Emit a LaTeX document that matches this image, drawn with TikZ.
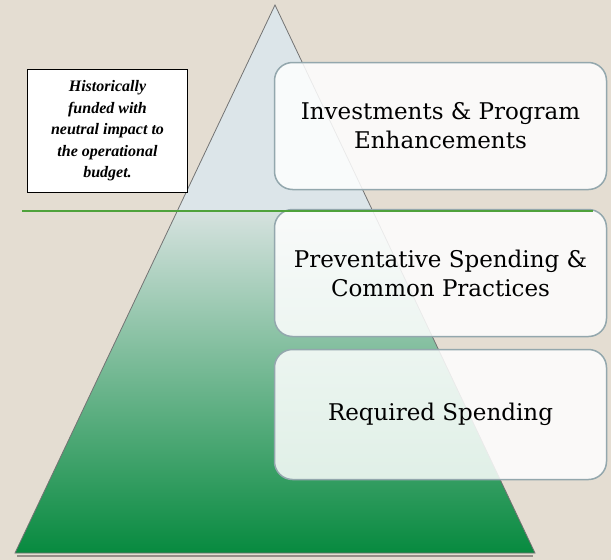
\documentclass[tikz,border=0pt]{standalone}
\usepackage{fontspec}
\setmainfont{DejaVu Serif}
\newfontfamily\notefont{Liberation Serif}
\usetikzlibrary{calc}

\definecolor{fond}{HTML}{E4DDD2}
\definecolor{ciel}{HTML}{DCE5E9}
\definecolor{pale}{HTML}{D6E2DF}
\definecolor{mivert}{HTML}{78B995}
\definecolor{vert}{HTML}{078A3F}
\definecolor{bord}{HTML}{93A7AD}
\definecolor{trait}{HTML}{4FA23C}

\tikzset{
  niveau/.style={draw=bord, line width=1.5pt, rounded corners=18pt, fill=white, fill opacity=0.85, text opacity=1,
    minimum width=332pt, minimum height=127pt, align=center, text=black, font=\fontsize{23}{29}\selectfont},
  note/.style={draw, line width=1.5pt, fill=white, minimum width=160pt, minimum height=123pt, align=center,
    inner sep=0pt, font=\notefont\bfseries\itshape\fontsize{16}{21.5}\selectfont}
}

\begin{document}
\begin{tikzpicture}[x=1pt, y=-1pt]
    \fill [fond] (0, 0) rectangle (611, 560);
    \useasboundingbox (0, 0) rectangle (611, 560);

    % Pyramide
    \coordinate (sommet) at (275, 5);
    \coordinate (gauche) at (15, 553);
    \coordinate (droite) at (535, 553);
    \draw [black, opacity=0.35, line width=2.5pt] ($(gauche) + (2, 3)$) -- ($(droite) + (-2, 3)$);
    \begin{scope}
        \clip (sommet) -- (gauche) -- (droite) -- cycle;
        \fill [ciel] (0, 0) rectangle (611, 211);
        \shade [top color=pale, middle color=mivert, bottom color=vert] (0, 211) rectangle (611, 553);
    \end{scope}
    \draw [black!55, line width=0.8pt] (sommet) -- (gauche) -- (droite) -- cycle;

    % Niveaux
    \node [niveau] (invest) at (440.5, 126) {Investments \& Program\\Enhancements};
    \node [niveau] (prevent) at (440.5, 273) {Preventative Spending \&\\Common Practices};
    \node [niveau, minimum height=130pt] (requis) at (440.5, 414.5) {Required Spending};

    % Ligne de séparation
    \coordinate (filG) at (22, 211);
    \coordinate (filD) at (593, 211);
    \draw [trait, line width=2pt] (filG) -- (filD);

    % Remarque
    \node [note] (remarque) at (107.5, 131) {Historically\\funded with\\neutral impact to\\the operational\\budget.};
\end{tikzpicture}
\end{document}
